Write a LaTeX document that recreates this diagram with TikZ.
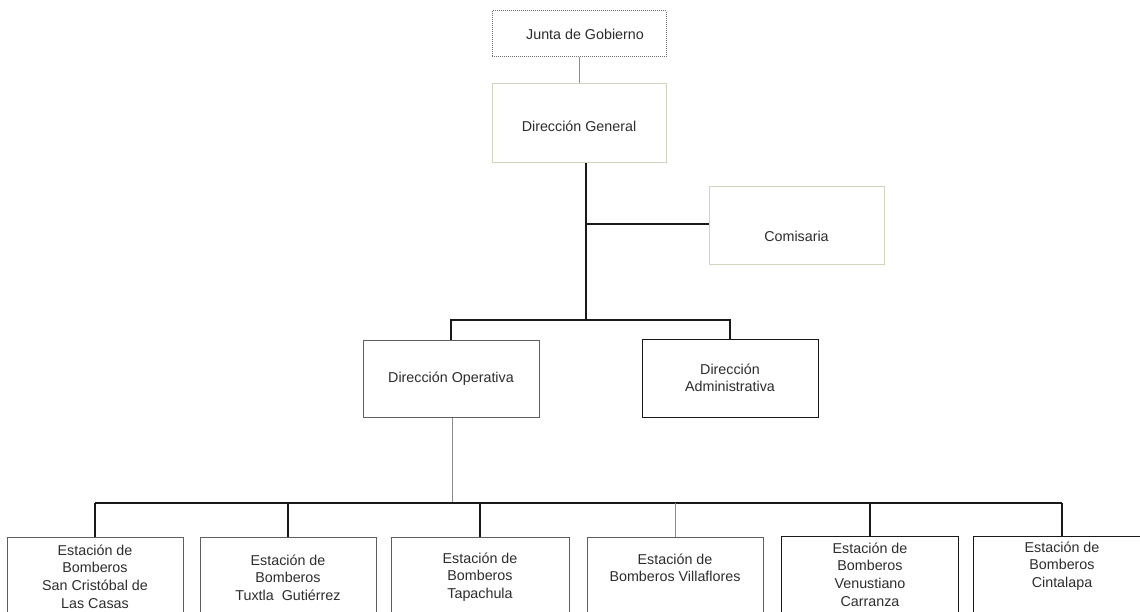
\documentclass[tikz,border=0pt]{standalone}
\usepackage{fontspec}
\setmainfont{Liberation Sans}
\definecolor{txt}{RGB}{45,45,45}
\definecolor{cream}{RGB}{212,212,190}
\definecolor{dotgray}{RGB}{110,110,110}
\definecolor{darkline}{RGB}{25,25,25}
\definecolor{midline}{RGB}{95,95,95}
\definecolor{lightline}{RGB}{140,140,140}
\begin{document}
\begin{tikzpicture}[x=1pt,y=-1pt,
  every node/.style={font=\fontsize{14.3}{17.6}\selectfont, text=txt, align=center},
  orgbox/.style={draw=#1, line width=1pt, inner sep=0pt, minimum width=176pt, minimum height=78pt},
  stbox/.style={draw=#1, line width=1pt, inner sep=0pt, minimum width=177pt, minimum height=100pt},
  label text/.style={inner sep=0pt},
  darkconn/.style={draw=darkline, line width=1.2pt},
  lightconn/.style={draw=lightline, line width=0.9pt}]
\useasboundingbox (0,0) rectangle (1140,612);
\clip (0,0) rectangle (1140,612);
\fill[white] (0,0) rectangle (1140,612);

% top
\node[orgbox=dotgray, densely dotted, minimum width=174pt, minimum height=46pt] (junta) at (579,34) {\hspace*{12pt}Junta de Gobierno};
\node[orgbox=cream, minimum width=174pt, minimum height=79pt] (dg) at (579,123.5) {\raisebox{-3pt}[\height][\depth]{Dirección General}};
\node[orgbox=cream, minimum width=175pt, minimum height=78pt] (com) at (796.5,226) {\raisebox{-10pt}[\height][\depth]{Comisaria}};

\node[orgbox=midline, minimum height=77pt] (dop) at (451,378.5) {Dirección Operativa};
\node[orgbox=darkline] (dad) at (730,378) {Dirección\\Administrativa};

% stations
\node[stbox=midline, minimum width=176pt] (s1) at (95,587) {};
\node[stbox=midline, minimum width=176pt] (s2) at (288,587) {};
\node[stbox=midline, minimum width=178pt] (s3) at (480,587) {};
\node[stbox=midline, minimum width=176pt] (s4) at (675,587) {};
\node[stbox=darkline] (s5) at (870,586) {};
\node[stbox=darkline] (s6) at (1062,586) {};

\node[label text] (t1) at (95,576.5) {Estación de\\Bomberos\\San Cristóbal de\\Las Casas};
\node[label text] (t2) at (288,577.5) {Estación de\\Bomberos\\Tuxtla\ \ Gutiérrez};
\node[label text] (t3) at (480,577) {Estación de\\Bomberos\\Tapachula};
\node[label text] (t4) at (675,568) {Estación de\\Bomberos Villaflores};
\node[label text] (t5) at (870,574.5) {Estación de\\Bomberos\\Venustiano\\Carranza};
\node[label text] (t6) at (1062,566) {Estación de\\Bomberos\\Cintalapa};

% connectors
\coordinate (c1) at (586,224);
\coordinate (c2) at (586,320);
\coordinate (c3) at (452,503);

\draw[lightconn] (junta) -- (dg);
\draw[darkconn] (dg.south -| c1) -- (c2);
\draw[darkconn] (c1) -- (com.west |- c1);
\draw[darkconn] (dop.north) |- (c2) -| (dad.north);
\draw[lightconn] (dop.south -| c3) -- (c3);
\draw[darkconn] (s1.north |- c3) -- (s6.north |- c3);
\draw[darkconn] (s1.north) -- (s1.north |- c3);
\draw[darkconn] (s2.north) -- (s2.north |- c3);
\draw[darkconn] (s3.north) -- (s3.north |- c3);
\draw[lightconn] (s4.north) -- (s4.north |- c3);
\draw[darkconn] (s5.north) -- (s5.north |- c3);
\draw[darkconn] (s6.north) -- (s6.north |- c3);
\end{tikzpicture}
\end{document}
